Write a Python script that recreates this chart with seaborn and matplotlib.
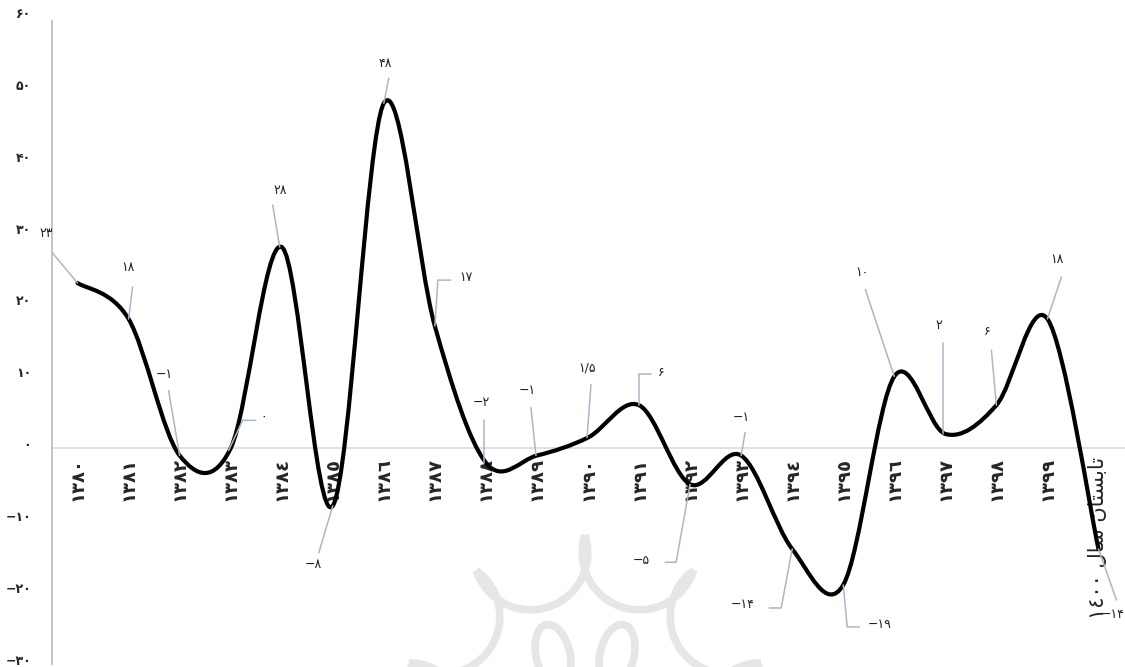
import numpy as np
import matplotlib
matplotlib.use("Agg")
import matplotlib.pyplot as plt
from matplotlib.path import Path
from matplotlib.patches import PathPatch, Arc, Ellipse
from matplotlib.lines import Line2D
from matplotlib.transforms import IdentityTransform, ScaledTranslation
import seaborn as sns

# ---- data -------------------------------------------------------------
years = ["١٣٨٠", "١٣٨١", "١٣٨٢", "١٣٨٣", "١٣٨٤", "١٣٨٥", "١٣٨٦", "١٣٨٧",
         "١٣٨٨", "١٣٨٩", "١٣٩٠", "١٣٩١", "١٣٩٢", "١٣٩٣", "١٣٩٤", "١٣٩٥",
         "١٣٩٦", "١٣٩٧", "١٣٩٨", "١٣٩٩",
         # "تابستان سال ۱۴۰۰" written in visual order with joined letter forms
         "١٤٠٠ \ufedd\ufe8e\ufeb3 \ufee5\ufe8e\ufe98\ufeb4\ufe91\ufe8e\ufe97"]
growth = [23, 18, -1, 0, 28, -8, 48, 17, -2, -1, 1.5, 6, -5, -1, -14, -19,
          10, 2, 6, 18, -14]
value_text = ["۲۳", "۱۸", "−۱", "۰", "۲۸", "−۸", "۴۸", "۱۷", "−۲", "−۱", "۱/۵",
              "۶", "−۵", "−۱", "−۱۴", "−۱۹", "۱۰", "۲", "۶", "۱۸", "−۱۴"]
y_ticks = [-30, -20, -10, 0, 10, 20, 30, 40, 50, 60]
y_tick_text = ["−۳۰", "−۲۰", "−۱۰", "۰", "۱۰", "۲۰", "۳۰", "۴۰", "۵۰", "۶۰"]

# label placement: (dx, dy) in pixels from the point, y pointing down
label_offset = [(-31, -49), (-1, -51), (-15, -81), (33, -31), (-1, -57),
                (-19, 59), (1, -40), (31, -49), (-5, -60), (-10, -65),
                (-1, -70), (22, -33), (-49, 76), (0, -38), (-50, 56),
                (36, 40), (-32, -104), (-6, -108), (-9, -74), (10, -59),
                (14, 66)]
# leader line vertices (pixels from the point, y down)
leader_path = [
    [(0, 0), (-25, -30)],
    [(0, 0), (4, -32)],
    [(0, 0), (-11, -65)],
    [(-2, 2), (12, -28), (25, -28)],
    [(-2, 0), (-9, -42)],
    [(0, 0), (-14, 47)],
    [(0, 0), (5, -25)],
    [(0, 0), (3, -46), (16, -46)],
    [(-2, 0), (-2, -43)],
    [(-1, 0), (-6, -48)],
    [(-1, 0), (3, -53)],
    [(0, 0), (0, -31), (12, -31)],
    [(0, 0), (-14, 78), (-25, 78)],
    [(0, 0), (4, -23)],
    [(0, 0), (-11, 59), (-23, 59)],
    [(0, 0), (4, 42), (16, 42)],
    [(0, 0), (-29, -87)],
    [(-2, 0), (-2, -91)],
    [(0, 0), (-5, -55)],
    [(0, 0), (14, -42)],
    [(0, 0), (18, 51)],
]

# ---- style ------------------------------------------------------------
sns.set_theme(style="white")
plt.rcParams["font.family"] = ["DejaVu Sans"]
W, H = 1125, 667
AXIS_GREY = "#BFBFBF"
ZERO_LINE = "#D9DEE7"
LEADER = "#A9B7C9"

fig = plt.figure(figsize=(W / 100, H / 100), dpi=100)
fig.patch.set_facecolor("white")
ax = fig.add_axes([52 / W, 3 / H, 1072 / W, 647 / H])
ax.set_facecolor("none")

x = np.arange(len(growth))
ax.set_xlim(-0.5, len(growth) - 0.5)
ax.set_ylim(-30, 60)


# ---- faint emblem in the background ------------------------------------
def draw_emblem():
    cx, cy, R = 585, H - 720, 185
    col = "#E6E6E6"
    lw = 5.5
    ang = np.deg2rad(90 + 36 * np.arange(10))
    tips = np.column_stack([cx + R * np.cos(ang), cy + R * np.sin(ang)])
    for k in range(10):
        a, b = tips[k], tips[(k + 1) % 10]
        mid = (a + b) / 2
        half = np.linalg.norm(b - a) / 2
        base = np.degrees(np.arctan2(b[1] - a[1], b[0] - a[0]))
        arc = Arc(mid, 2 * half, 2 * half, angle=base, theta1=0, theta2=180,
                  color=col, lw=lw, transform=IdentityTransform(), zorder=0)
        fig.add_artist(arc)
    for sx in (-32, 32):
        e = Ellipse((cx + sx, H - 655), 34, 62, angle=-sx * 0.4, fill=False,
                    ec=col, lw=lw, transform=IdentityTransform(), zorder=0)
        fig.add_artist(e)


draw_emblem()


# ---- smoothed line (cubic Bezier through every point) ------------------
def smooth_path(xs, ys):
    pts = np.column_stack([xs, ys]).astype(float)
    ext = np.vstack([pts[0], pts, pts[-1]])
    verts, codes = [tuple(pts[0])], [Path.MOVETO]
    for i in range(len(pts) - 1):
        p0, p1, p2, p3 = ext[i], ext[i + 1], ext[i + 2], ext[i + 3]
        c1 = p1 + (p2 - p0) / 6.0
        c2 = p2 - (p3 - p1) / 6.0
        verts += [tuple(c1), tuple(c2), tuple(p2)]
        codes += [Path.CURVE4] * 3
    return Path(verts, codes)


ax.add_patch(PathPatch(smooth_path(x, growth), fill=False, ec="black",
                       lw=3.0, capstyle="round", joinstyle="round", zorder=4))

# ---- axes -------------------------------------------------------------
sns.despine(ax=ax, top=True, right=True)
ax.spines["left"].set_color(AXIS_GREY)
ax.spines["left"].set_linewidth(1.3)
ax.spines["left"].set_bounds(-30, 59.5)
ax.spines["bottom"].set_position(("data", 0))
ax.spines["bottom"].set_color(ZERO_LINE)
ax.spines["bottom"].set_linewidth(1.3)
ax.spines["bottom"].set_zorder(1)

ax.set_yticks(y_ticks)
ax.set_yticklabels(y_tick_text, fontsize=9, fontweight="bold")
ax.tick_params(axis="y", length=0, pad=15)
lift = ScaledTranslation(0, 3 / 72, fig.dpi_scale_trans)
for lbl in ax.get_yticklabels():
    lbl.set_transform(lbl.get_transform() + lift)

ax.set_xticks(x)
ax.set_xticklabels(years, rotation=90, fontsize=13, fontweight="bold")
ax.set_xticks(np.arange(-0.5, len(growth)), minor=True)
ax.tick_params(axis="x", which="major", length=0, pad=6)
ax.tick_params(axis="x", which="minor", length=3.5, width=1.2,
               color=ZERO_LINE, direction="out")
last = ax.get_xticklabels()[-1]
last.set_fontweight("normal")
last.set_fontsize(15)
ax.grid(False)

# ---- value labels with leader lines -----------------------------------
fig.canvas.draw()
for i, (v, txt) in enumerate(zip(growth, value_text)):
    px, py = ax.transData.transform((x[i], v))
    verts = np.array(leader_path[i], dtype=float)
    line = Line2D(px + verts[:, 0], py - verts[:, 1], color=LEADER, lw=1.1,
                  transform=IdentityTransform(), zorder=3, clip_on=False)
    fig.add_artist(line)
    dx, dy = label_offset[i]
    ax.annotate(txt, xy=(x[i], v), xytext=(dx, -dy), textcoords="offset pixels",
                ha="center", va="center", fontsize=9, color="#222222",
                annotation_clip=False, zorder=5)

fig.savefig("out.png", dpi=100, facecolor="white")
